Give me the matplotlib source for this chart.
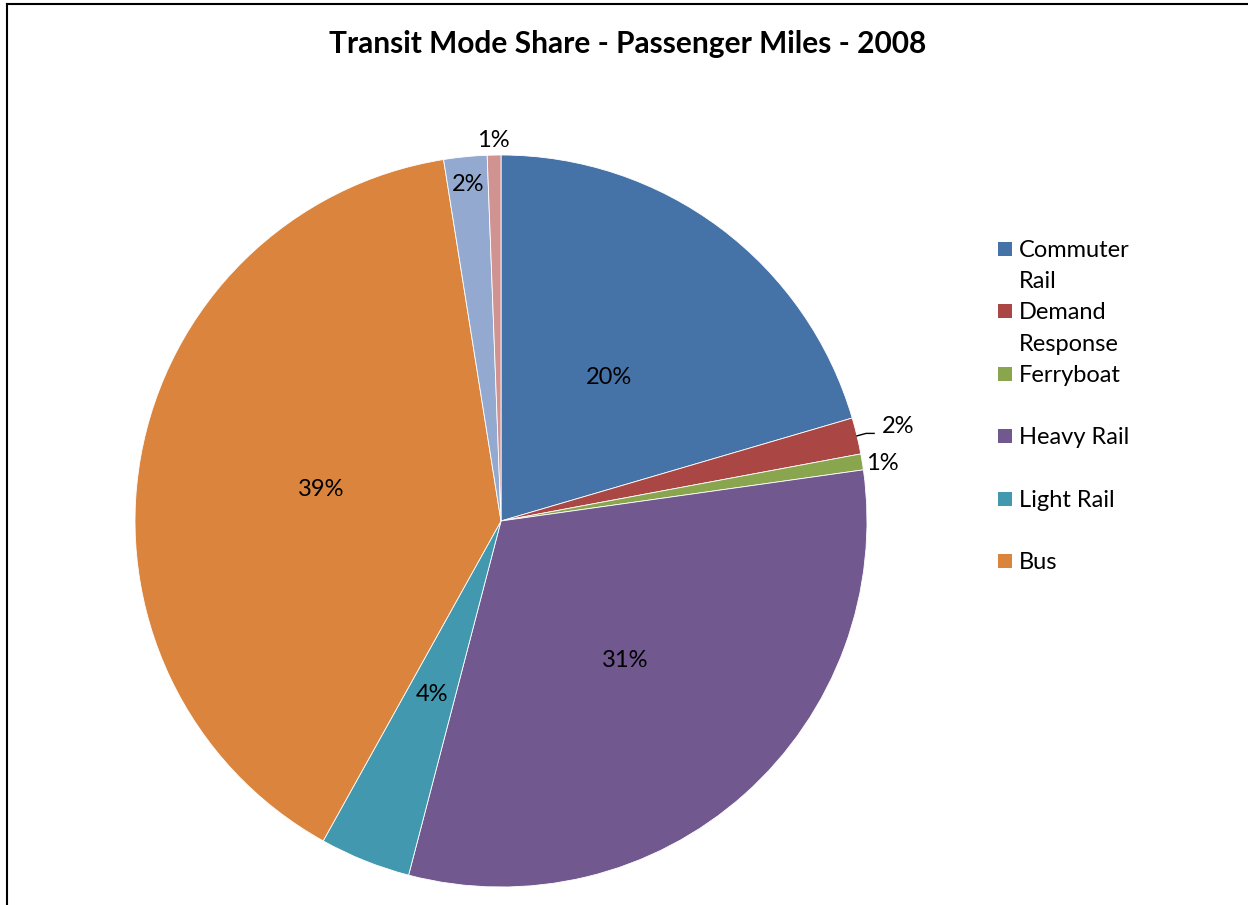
import numpy as np
import matplotlib
matplotlib.use("Agg")
import matplotlib.pyplot as plt
from matplotlib.patches import Rectangle
from matplotlib.lines import Line2D

# ---- data ----
modes = ["Commuter Rail", "Demand Response", "Ferryboat", "Heavy Rail",
         "Light Rail", "Bus", "Other A", "Other B"]
legend_labels = ["Commuter\nRail", "Demand\nResponse", "Ferryboat",
                 "Heavy Rail", "Light Rail", "Bus"]
shares = [20.4, 1.6, 0.7, 31.2, 4.0, 39.3, 1.9, 0.6]
colors = ["#4572A7", "#AA4643", "#89A54E", "#71588F", "#4198AF",
          "#DB843D", "#93A9CF", "#D19392"]
title = "Transit Mode Share - Passenger Miles - 2008"

FONT = ["Lato", "DejaVu Sans"]
plt.rcParams["font.family"] = FONT

W, H = 1248, 905
fig = plt.figure(figsize=(W / 100, H / 100), dpi=100)

cx, cy, R = 501, 521, 366
ax = fig.add_axes([(cx - R) / W, 1 - (cy + R) / H, 2 * R / W, 2 * R / H])
wedges, _ = ax.pie(shares, colors=colors, startangle=90, counterclock=False,
                   radius=1.0, wedgeprops=dict(edgecolor="white", linewidth=0.6))
ax.set_xlim(-1, 1)
ax.set_ylim(-1, 1)
ax.set_aspect("equal")
ax.axis("off")

# label placement radius per slice (style)
label_r = [0.49, 1.115, 1.055, 0.51, 0.51, 0.50, 0.925, 1.04]
LFS = 17
total = sum(shares)
for i, w in enumerate(wedges):
    mid = np.deg2rad((w.theta1 + w.theta2) / 2)
    pct = f"{round(shares[i] / total * 100):.0f}%"
    r = label_r[i]
    x, y = r * np.cos(mid), r * np.sin(mid)
    if i == 2:
        y -= 0.012
    if i == 1:
        ex, ey = np.cos(mid), np.sin(mid)
        x2, y2 = x - 0.065, y - 0.02
        ax.plot([ex, x2 - 0.022, x2], [ey, y2, y2],
                color="black", lw=1, clip_on=False)
    ax.text(x, y, pct, ha="center", va="center", fontsize=LFS)

fig.text(628 / W, 1 - 44 / H, title, ha="center", va="center",
         fontsize=21.5, fontweight="bold")

# legend (manual, to match the evenly spaced layout)
lx, ly0, step, lgap = 1019, 249, 62.4, 31.5
for i, lab in enumerate(legend_labels):
    y = ly0 + i * step
    fig.patches.append(Rectangle(((lx - 21) / W, 1 - (y + 7) / H), 14 / W, 14 / H,
                                 transform=fig.transFigure, facecolor=colors[i],
                                 edgecolor="none"))
    for k, line in enumerate(lab.split("\n")):
        fig.text(lx / W, 1 - (y + 8 + k * lgap) / H, line, ha="left",
                 va="baseline", fontsize=LFS)

# chart frame lines (top and left)
fig.add_artist(Line2D([7 / W, 1], [1 - 4 / H, 1 - 4 / H], transform=fig.transFigure,
                      color="black", lw=1.5))
fig.add_artist(Line2D([7 / W, 7 / W], [0, 1 - 4 / H], transform=fig.transFigure,
                      color="black", lw=1.5))

fig.savefig("out.png", dpi=100, facecolor="white")
